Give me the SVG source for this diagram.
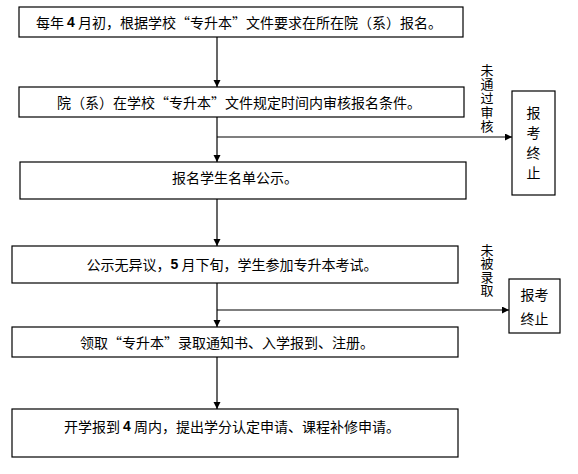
<svg xmlns="http://www.w3.org/2000/svg" width="578" height="474" viewBox="0 0 578 474">
<style>
.box{fill:#fff;stroke:#000;stroke-width:1.2}
.t{font-family:"Noto Sans CJK SC","Liberation Sans",sans-serif;font-size:14px;fill:#000;dominant-baseline:central;text-anchor:middle}
.v{font-family:"Noto Sans CJK SC","Liberation Sans",sans-serif;font-size:13px;fill:#000;writing-mode:vertical-rl;text-anchor:start}
.b{font-weight:bold;font-family:"Liberation Sans",sans-serif}
.c{stroke:#000;stroke-width:1.2;fill:none}
</style>
<defs>
<marker id="ah" markerUnits="userSpaceOnUse" markerWidth="8" markerHeight="8" refX="7" refY="3.5" orient="auto">
<path d="M0,0 L7,3.5 L0,7 z" fill="#000"/>
</marker>
</defs>
<rect width="578" height="474" fill="#fff"/>
<g id="connectors">
<line class="c" x1="217" y1="37" x2="217" y2="87" marker-end="url(#ah)"/>
<line class="c" x1="217" y1="117" x2="217" y2="162" marker-end="url(#ah)"/>
<line class="c" x1="217" y1="199" x2="217" y2="246" marker-end="url(#ah)"/>
<line class="c" x1="217" y1="283" x2="217" y2="327" marker-end="url(#ah)"/>
<line class="c" x1="217" y1="357" x2="217" y2="409" marker-end="url(#ah)"/>
<line class="c" x1="217" y1="137" x2="512" y2="137" marker-end="url(#ah)"/>
<line class="c" x1="217" y1="310" x2="509" y2="310" marker-end="url(#ah)"/>
<text id="label-fail-review" class="v" x="487" y="63.5" letter-spacing="1">未通过审核</text>
<text id="label-not-admitted" class="v" x="487" y="243.5" letter-spacing="0.5">未被录取</text>
</g>
<g id="n1">
<rect class="box" x="19" y="7" width="444" height="30"/>
<text class="t" x="239" y="22">每年 <tspan class="b">4</tspan> 月初，根据学校“专升本”文件要求在所在院（系）报名。</text>
</g>
<g id="n2">
<rect class="box" x="19" y="87" width="445" height="30"/>
<text class="t" x="239" y="102">院（系）在学校“专升本”文件规定时间内审核报名条件。</text>
</g>
<g id="n3">
<rect class="box" x="20" y="162" width="446" height="37"/>
<text class="t" x="235" y="177">报名学生名单公示。</text>
</g>
<g id="n4">
<rect class="box" x="12" y="246" width="446" height="37"/>
<text class="t" x="232" y="264">公示无异议，<tspan class="b">5</tspan> 月下旬，学生参加专升本考试。</text>
</g>
<g id="n5">
<rect class="box" x="12" y="327" width="446" height="30"/>
<text class="t" x="227" y="342">领取“专升本”录取通知书、入学报到、注册。</text>
</g>
<g id="n6">
<rect class="box" x="12" y="409" width="446" height="48"/>
<text class="t" x="232" y="426">开学报到 <tspan class="b">4</tspan> 周内，提出学分认定申请、课程补修申请。</text>
</g>
<g id="end1">
<rect class="box" x="512" y="91" width="43" height="104"/>
<text class="t"><tspan x="533.5" y="112">报</tspan><tspan x="533.5" y="132">考</tspan><tspan x="533.5" y="152">终</tspan><tspan x="533.5" y="172">止</tspan></text>
</g>
<g id="end2">
<rect class="box" x="509" y="279" width="51" height="54"/>
<text class="t"><tspan x="534.5" y="293.5">报考</tspan><tspan x="534.5" y="317.5">终止</tspan></text>
</g>
</svg>
